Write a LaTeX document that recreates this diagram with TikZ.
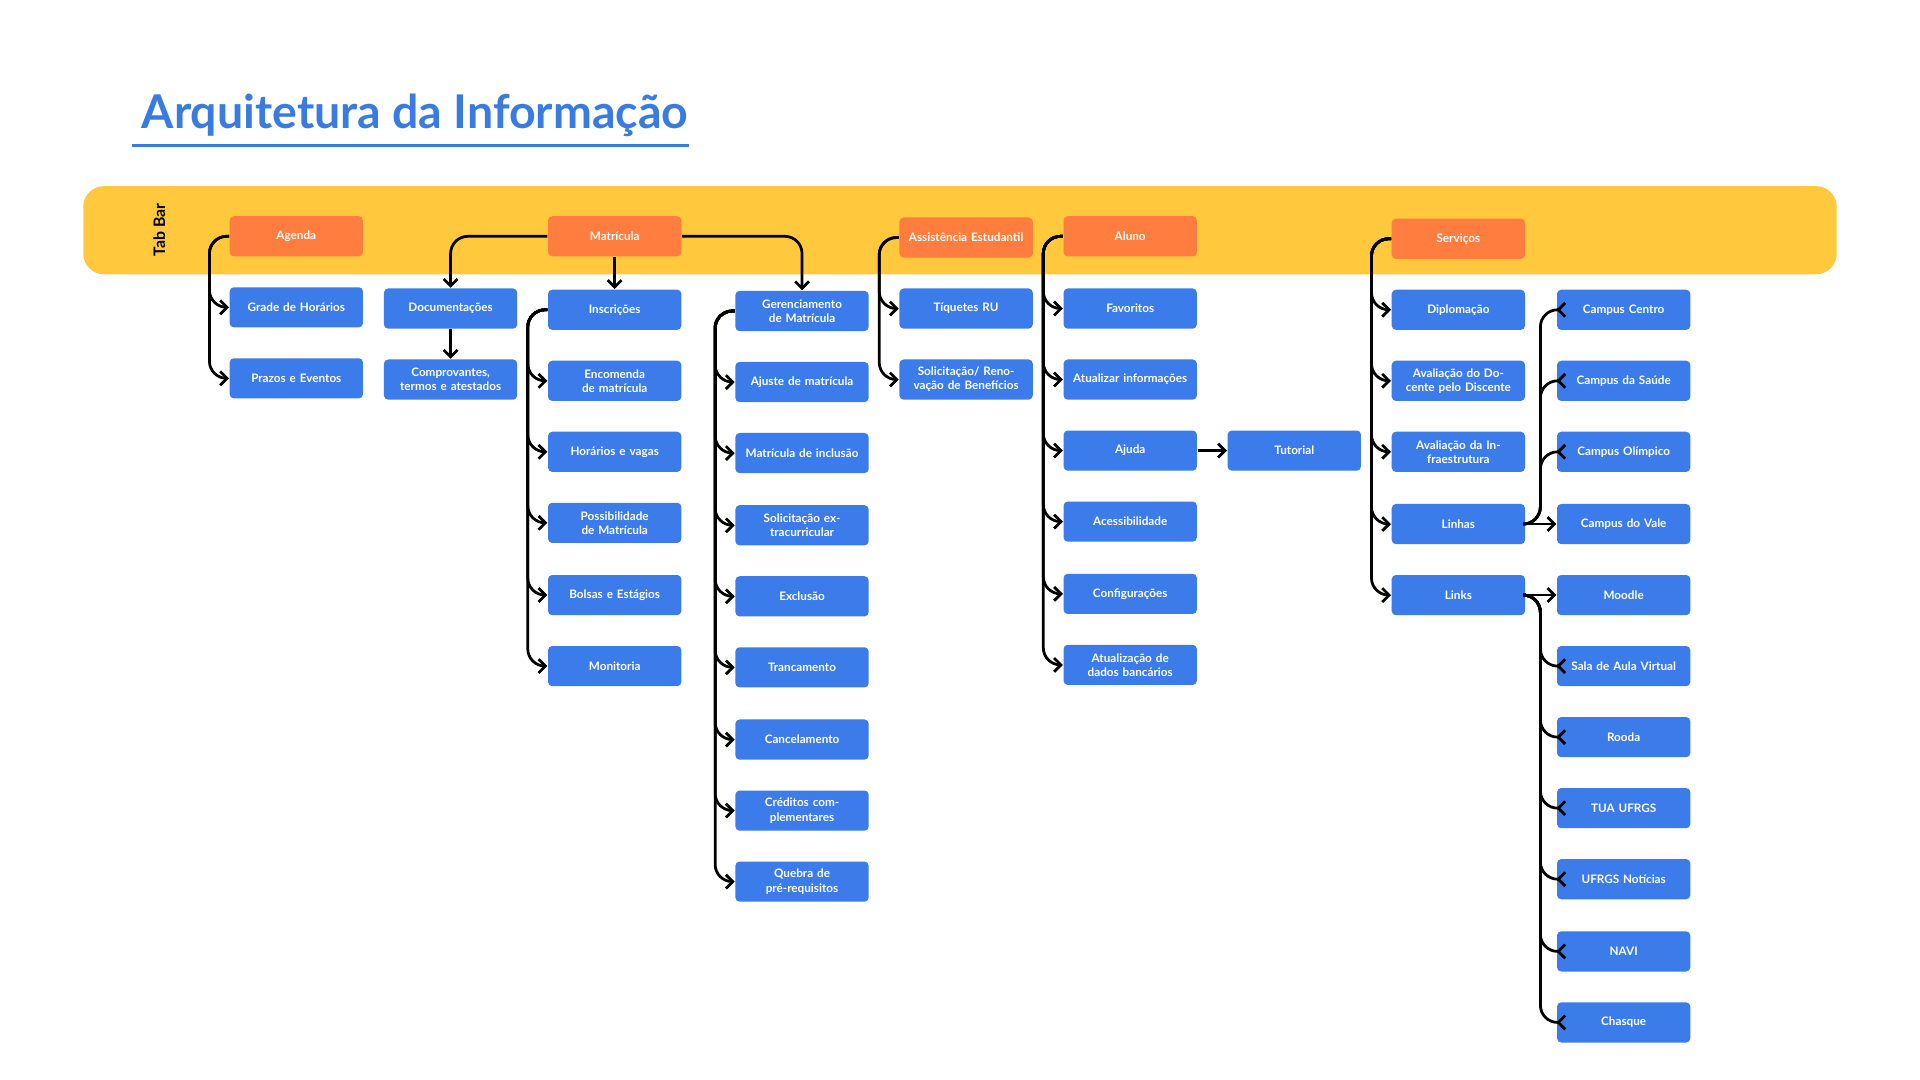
\documentclass[tikz,border=0pt]{standalone}
\usepackage{fontspec}
\setmainfont{Lato}
\usetikzlibrary{arrows.meta}

\definecolor{tabyellow}{HTML}{FFC83D}
\definecolor{taborange}{HTML}{FF7D3F}
\definecolor{itemblue}{HTML}{3B7BEA}
\definecolor{titleblue}{HTML}{3A7BE0}

\tikzset{
  box/.style = {rounded corners = 1.2pt, minimum width = 1.36cm, minimum height = 0.41cm,
    text width = 1.25cm, align = center, text = white,
    font = \fontsize{3.4}{4.1}\selectfont\bfseries, inner sep = 0pt},
  tab/.style = {box, fill = taborange},
  item/.style = {box, fill = itemblue},
  link/.style = {thick, rounded corners = 5pt, -{Straight Barb[length = 2pt, width = 4pt]}}
}

\begin{document}
\begin{tikzpicture}[x = 0.0125cm, y = -0.0125cm]
	 \useasboundingbox (0, 0) rectangle (1568, 882);
	 
	 % title
	 \node[anchor = west, text = titleblue, font = \fontsize{13.5}{16}\selectfont\bfseries] (title) at (106, 94) {Arquitetura da Informação};
	 \draw[titleblue, thick] (108, 119) -- (563, 119);
	 
	 % tab bar
	 \fill[tabyellow, rounded corners = 6pt] (68, 152) rectangle (1500, 224);
	 \node[rotate = 90, font = \fontsize{4.6}{5}\selectfont\bfseries] (tabbar) at (130, 188) {Tab Bar};
	 
	 \node[tab] (ag) at (242, 193) {Agenda};
	 \node[tab] (mat) at (502, 193) {Matrícula};
	 \node[tab] (asst) at (789, 194) {Assistência Estudantil};
	 \node[tab] (alu) at (923, 193) {Aluno};
	 \node[tab] (serv) at (1191, 195) {Serviços};
	 
	 % agenda
	 \node[item] (grade) at (242, 251) {Grade de Horários};
	 \node[item] (prazos) at (242, 309) {Prazos e Eventos};
	 
	 % matricula
	 \node[item] (doc) at (368, 252) {Documentações};
	 \node[item] (comp) at (368, 310) {Comprovantes, termos e atestados};
	 \node[item] (insc) at (502, 253) {Inscrições};
	 \node[item] (enc) at (502, 311) {Encomenda de matrícula};
	 \node[item] (hor) at (502, 369) {Horários e vagas};
	 \node[item] (poss) at (502, 427) {Possibilidade de Matrícula};
	 \node[item] (bol) at (502, 486) {Bolsas e Estágios};
	 \node[item] (mon) at (502, 544) {Monitoria};
	 \node[item] (ger) at (655, 254) {Gerenciamento de Matrícula};
	 \node[item] (aju) at (655, 312) {Ajuste de matrícula};
	 \node[item] (minc) at (655, 370) {Matrícula de inclusão};
	 \node[item] (sol) at (655, 429) {Solicitação extracurricular};
	 \node[item] (exc) at (655, 487) {Exclusão};
	 \node[item] (tra) at (655, 545) {Trancamento};
	 \node[item] (can) at (655, 604) {Cancelamento};
	 \node[item] (cred) at (655, 662) {Créditos complementares};
	 \node[item] (queb) at (655, 720) {Quebra de pré-requisitos};
	 
	 % assistencia
	 \node[item] (tiq) at (789, 252) {Tíquetes RU};
	 \node[item] (ren) at (789, 310) {Solicitação/ Renovação de Benefícios};
	 
	 % aluno
	 \node[item] (fav) at (923, 252) {Favoritos};
	 \node[item] (atu) at (923, 310) {Atualizar informações};
	 \node[item] (ajd) at (923, 368) {Ajuda};
	 \node[item] (tut) at (1057, 368) {Tutorial};
	 \node[item] (ace) at (923, 426) {Acessibilidade};
	 \node[item] (conf) at (923, 485) {Configurações};
	 \node[item] (banc) at (923, 543) {Atualização de dados bancários};
	 
	 % servicos
	 \node[item] (dip) at (1191, 253) {Diplomação};
	 \node[item] (avd) at (1191, 311) {Avaliação do Docente pelo Discente};
	 \node[item] (avi) at (1191, 369) {Avaliação da Infraestrutura};
	 \node[item] (lin) at (1191, 428) {Linhas};
	 \node[item] (lnk) at (1191, 486) {Links};
	 \node[item] (cc) at (1326, 253) {Campus Centro};
	 \node[item] (cs) at (1326, 311) {Campus da Saúde};
	 \node[item] (co) at (1326, 369) {Campus Olímpico};
	 \node[item] (cv) at (1326, 428) {Campus do Vale};
	 \node[item] (moo) at (1326, 486) {Moodle};
	 \node[item] (sala) at (1326, 544) {Sala de Aula Virtual};
	 \node[item] (roo) at (1326, 602) {Rooda};
	 \node[item] (tua) at (1326, 660) {TUA UFRGS};
	 \node[item] (noti) at (1326, 718) {UFRGS Notícias};
	 \node[item] (navi) at (1326, 777) {NAVI};
	 \node[item] (chq) at (1326, 835) {Chasque};
	 
	 % connectors
	 \foreach \c in {grade, prazos}
	 \draw[link] (ag.west) -- ++(-16, 0) |- (\c.west);
	 \draw[link] (mat.west) -| (doc.north);
	 \draw[link] (mat.south) -- (insc.north);
	 \draw[link] (mat.east) -| (ger.north);
	 \draw[link] (doc.south) -- (comp.north);
	 \foreach \c in {enc, hor, poss, bol, mon}
	 \draw[link] (insc.west) -- ++(-16, 0) |- (\c.west);
	 \foreach \c in {aju, minc, sol, exc, tra, can, cred, queb}
	 \draw[link] (ger.west) -- ++(-16, 0) |- (\c.west);
	 \foreach \c in {tiq, ren}
	 \draw[link] (asst.west) -- ++(-16, 0) |- (\c.west);
	 \foreach \c in {fav, atu, ajd, ace, conf, banc}
	 \draw[link] (alu.west) -- ++(-16, 0) |- (\c.west);
	 \draw[link] (ajd.east) -- (tut.west);
	 \foreach \c in {dip, avd, avi, lin, lnk}
	 \draw[link] (serv.west) -- ++(-16, 0) |- (\c.west);
	 \draw[link] (lin.east) -- (cv.west);
	 \foreach \c in {cc, cs, co}
	 \draw[link] (lin.east) -- ++(12, 0) |- (\c.west);
	 \draw[link] (lnk.east) -- (moo.west);
	 \foreach \c in {sala, roo, tua, noti, navi, chq}
	 \draw[link] (lnk.east) -- ++(12, 0) |- (\c.west);
\end{tikzpicture}
\end{document}
